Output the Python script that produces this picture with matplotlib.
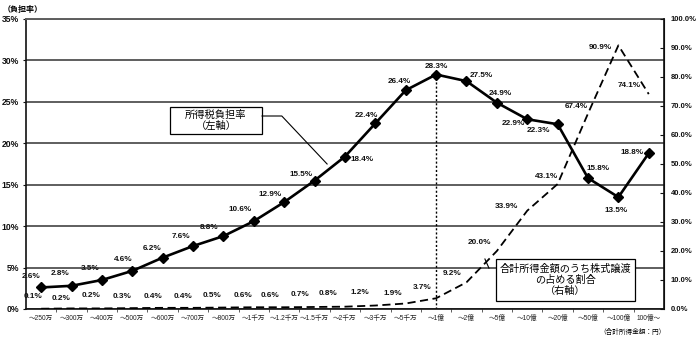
import matplotlib
matplotlib.use("Agg")
import matplotlib.pyplot as plt
from matplotlib.patches import Rectangle

plt.rcParams['font.family'] = ['Liberation Sans', 'Noto Sans CJK JP', 'DejaVu Sans']

# income brackets (合計所得金額)
brackets = ['～250万', '～300万', '～400万', '～500万', '～600万', '～700万', '～800万',
            '～1千万', '～1.2千万', '～1.5千万', '～2千万', '～3千万', '～5千万', '～1億',
            '～2億', '～5億', '～10億', '～20億', '～50億', '～100億', '100億～']

# income tax burden rate (left axis, %)
tax_rate = [2.6, 2.8, 3.5, 4.6, 6.2, 7.6, 8.8, 10.6, 12.9, 15.5, 18.4,
            22.4, 26.4, 28.3, 27.5, 24.9, 22.9, 22.3, 15.8, 13.5, 18.8]

# share of stock transfer income in total income (right axis, %)
stock_share = [0.1, 0.2, 0.2, 0.3, 0.4, 0.4, 0.5, 0.6, 0.6, 0.7, 0.8,
               1.2, 1.9, 3.7, 9.2, 20.0, 33.9, 43.1, 67.4, 90.9, 74.1]

left_ticks = [0, 5, 10, 15, 20, 25, 30, 35]
right_ticks = [0, 10, 20, 30, 40, 50, 60, 70, 80, 90, 100]

# label offsets in pixels (dx, dy)
tax_off = [(-10, 11), (-11, 12), (-12, 11), (-9, 11), (-11, 9), (-12, 10), (-14, 9),
           (-14, 12), (-14, 8), (-14, 6), (17, -3), (-9, 8), (-6, 9), (0, 8),
           (15, 6), (3, 9), (-14, -4), (-19, -6), (10, 10), (-2, -13), (-17, 1)]
stock_off = [(-8, 12), (-10, 10), (-11, 13), (-10, 12), (-10, 11), (-10, 11), (-11, 12),
             (-11, 12), (-14, 12), (-15, 12), (-17, 13), (-15, 13), (-13, 10), (-14, 11),
             (-14, 9), (-17, 8), (-21, 4), (-11, 8), (-12, 7), (-18, -2), (-20, 9)]

x = list(range(len(brackets)))

fig = plt.figure(figsize=(7, 3.38), dpi=100)
ax = fig.add_axes([0.0371, 0.0858, 0.9114, 0.858])
ax2 = ax.twinx()

grid_c = '#5e5e5e'
ax.set_xlim(-0.5, len(brackets) - 0.5)
ax.set_ylim(0, 35)
ax2.set_ylim(0, 100)

ax.set_yticks(left_ticks)
ax.set_yticklabels([f'{t}%' for t in left_ticks], fontsize=6.2, fontweight='bold')
ax2.set_yticks(right_ticks)
ax2.set_yticklabels([f'{t:.1f}%' for t in right_ticks], fontsize=5.5, fontweight='bold')
ax.tick_params(axis='y', length=2, pad=3, colors='#111')
ax2.tick_params(axis='y', direction='in', length=3, pad=5, colors='#111')

ax.set_xticks(x)
ax.set_xticklabels(brackets, fontsize=4.8)
ax.tick_params(axis='x', length=0, pad=4, colors='#222')
ax.set_xticks([i + 0.5 for i in x[:-1]], minor=True)
ax.tick_params(axis='x', which='minor', length=2, color='#444')

ax.yaxis.grid(True, color=grid_c, lw=1.4)
ax.set_axisbelow(True)
for sp in ['left', 'bottom']:
    ax.spines[sp].set_color('#111')
    ax.spines[sp].set_linewidth(1.2)
ax.spines['top'].set_color(grid_c)
ax.spines['top'].set_linewidth(1.4)
ax2.spines['right'].set_color('#111')
ax2.spines['right'].set_linewidth(1.2)
for sp in ['top', 'left', 'bottom']:
    ax2.spines[sp].set_visible(False)

# tax burden line with vertical marker at the peak
ax.vlines(13, 0, tax_rate[13], colors='k', lw=1.0, linestyles=(0, (1.5, 1.5)))
ax.plot(x, tax_rate, color='k', lw=1.9, marker='D', ms=4.8, zorder=3)
for xi, v, (dx, dy) in zip(x, tax_rate, tax_off):
    ax.annotate(f'{v:.1f}%', (xi, v), xytext=(dx, dy), textcoords='offset pixels',
                ha='center', va='center', fontsize=5.9, fontweight='bold', color='#111')

# stock transfer share line
ax2.plot(x, stock_share, color='k', lw=1.3, dashes=(4.5, 2.5), zorder=3)
for xi, v, (dx, dy) in zip(x, stock_share, stock_off):
    ax2.annotate(f'{v:.1f}%', (xi, v), xytext=(dx, dy), textcoords='offset pixels',
                 ha='center', va='center', fontsize=5.9, fontweight='bold', color='#111')

# callout boxes
ax2.add_patch(Rectangle((0.2257, 0.603), 0.1443, 0.094, transform=ax2.transAxes,
                        facecolor='white', edgecolor='k', lw=0.9, zorder=5))
ax2.text(0.2978, 0.651, '所得税負担率\n（左軸）', transform=ax2.transAxes,
         ha='center', va='center', fontsize=7.4, linespacing=1.15, zorder=6)
ax2.plot([0.370, 0.401, 0.472], [0.6655, 0.6655, 0.5], transform=ax2.transAxes,
         color='k', lw=0.8, zorder=5)

ax2.add_patch(Rectangle((0.737, 0.0276), 0.2175, 0.1448, transform=ax2.transAxes,
                        facecolor='white', edgecolor='k', lw=0.9, zorder=5))
ax2.text(0.845, 0.1, '合計所得金額のうち株式譲渡\nの占める割合\n（右軸）', transform=ax2.transAxes,
         ha='center', va='center', fontsize=7.3, linespacing=1.15, zorder=6)
ax2.plot([0.7257, 0.7194], [0.141, 0.1724], transform=ax2.transAxes,
         color='k', lw=0.8, zorder=5)

fig.text(0.004, 0.982, '（負担率）', ha='left', va='top', fontsize=5.8, fontweight='bold')
fig.text(632 / 700, 1 - 332 / 338, '（合計所得金額：円）', ha='center', va='center', fontsize=4.8)

fig.savefig('out.png', dpi=100)
